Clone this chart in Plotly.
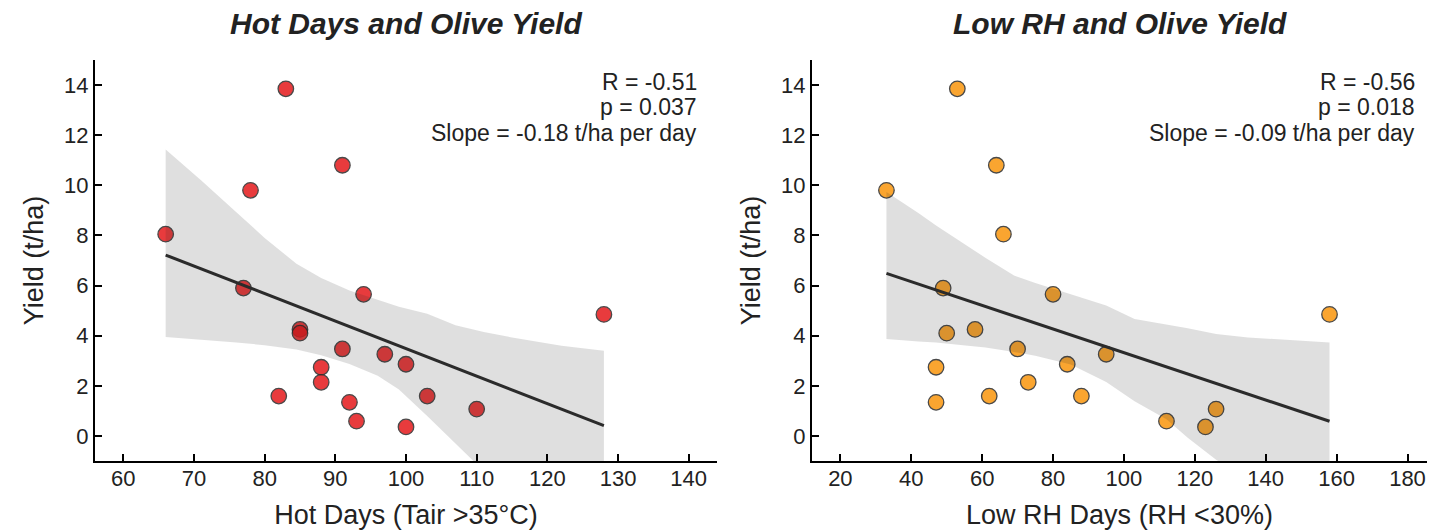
import numpy as np
import plotly.graph_objects as go

# ---- data ----
yield_t_ha = [13.85, 10.8, 9.8, 8.05, 5.9, 5.65, 4.85, 4.25, 4.1, 3.47,
              3.26, 2.86, 2.74, 2.14, 1.59, 1.59, 1.34, 1.07, 0.59, 0.36]
hot_days = [83, 91, 78, 66, 77, 94, 128, 85, 85, 91,
            97, 100, 88, 88, 82, 103, 92, 110, 93, 100]
low_rh_days = [53, 64, 33, 66, 49, 80, 158, 58, 50, 70,
               95, 84, 47, 73, 62, 88, 47, 126, 112, 123]

# bootstrap confidence band edges
hot_ci_x = [66, 71, 76, 80, 84.5, 88, 92, 96, 99, 103, 107, 111, 115, 122, 128]
hot_ci_upper = [11.43, 10.2, 8.93, 7.9, 6.87, 6.3, 5.8, 5.42, 5.15, 4.88, 4.42, 4.15, 3.93, 3.6, 3.4]
hot_ci_lower = [3.95, 3.85, 3.73, 3.62, 3.45, 3.22, 2.87, 2.4, 1.85, 0.8, -0.3, -1.4, -2.4, -4.0, -5.4]

rh_ci_x = [33, 42, 47, 56, 61, 69, 75, 85, 95, 103, 112, 118, 126, 135, 158]
rh_ci_upper = [9.73, 8.9, 8.4, 7.55, 7.1, 6.4, 6.1, 5.65, 5.2, 4.67, 4.45, 4.3, 4.07, 3.93, 3.73]
rh_ci_lower = [3.87, 3.77, 3.73, 3.6, 3.53, 3.35, 3.2, 2.85, 2.15, 1.38, 0.67, -0.07, -0.95, -1.7, -3.7]

panel_titles = ["Hot Days and Olive Yield", "Low RH and Olive Yield"]
x_titles = ["Hot Days (Tair >35°C)", "Low RH Days (RH <30%)"]
stats_lines = [["R = -0.51", "p = 0.037", "Slope = -0.18 t/ha per day"],
               ["R = -0.56", "p = 0.018", "Slope = -0.09 t/ha per day"]]
x_ticks = [[60, 70, 80, 90, 100, 110, 120, 130, 140],
           [20, 40, 60, 80, 100, 120, 140, 160, 180]]
x_ranges = [[56, 144], [12, 185.5]]
y_ticks = [0, 2, 4, 6, 8, 10, 12, 14]

marker_colors = ["rgb(228,26,28)", "rgb(250,150,12)"]

FONT = "Liberation Sans, Arial, Helvetica, sans-serif"
TXT = "#222222"

fig = go.Figure()

panels = [
    (hot_days, hot_ci_x, hot_ci_upper, hot_ci_lower, "x", "y"),
    (low_rh_days, rh_ci_x, rh_ci_upper, rh_ci_lower, "x2", "y2"),
]

for i, (xs, cx, cu, cl, xa, ya) in enumerate(panels):
    fig.add_trace(go.Scatter(
        x=xs, y=yield_t_ha, mode="markers", xaxis=xa, yaxis=ya,
        marker=dict(size=15.5, color=marker_colors[i], opacity=0.85,
                    line=dict(color="#2a2a2a", width=1.3)),
        showlegend=False, hoverinfo="x+y"))
    fig.add_trace(go.Scatter(
        x=list(cx) + list(cx[::-1]), y=list(cu) + list(cl[::-1]),
        mode="lines", fill="toself", fillcolor="rgba(43,43,43,0.15)",
        line=dict(width=0), xaxis=xa, yaxis=ya, showlegend=False,
        hoverinfo="skip"))
    slope, intercept = np.polyfit(xs, yield_t_ha, 1)
    lx = [min(xs), max(xs)]
    fig.add_trace(go.Scatter(
        x=lx, y=[intercept + slope * v for v in lx], mode="lines",
        line=dict(color="#2b2b2b", width=3), xaxis=xa, yaxis=ya,
        showlegend=False, hoverinfo="skip"))

W, H = 1429, 531
ML, MR, MT, MB = 95, 2, 60, 70
pw = W - ML - MR
ph = H - MT - MB
d1 = [0, (717 - ML) / pw]
d2 = [(812 - ML) / pw, 1.0]

axis_common = dict(showgrid=False, zeroline=False, showline=True,
                   linecolor="black", linewidth=2, ticks="inside",
                   ticklen=7, tickwidth=1.5, tickcolor="black",
                   tickfont=dict(family=FONT, size=22, color=TXT),
                   automargin=False)
xt_font = dict(family=FONT, size=27, color=TXT)

fig.update_layout(
    width=W, height=H,
    margin=dict(l=ML, r=MR, t=MT, b=MB),
    paper_bgcolor="white", plot_bgcolor="white",
    font=dict(family=FONT, color=TXT),
    xaxis=dict(domain=d1, range=x_ranges[0], tickvals=x_ticks[0], anchor="y",
               title=dict(text=x_titles[0], font=xt_font, standoff=15),
               ticklabelstandoff=-3, **axis_common),
    yaxis=dict(domain=[0, 1], range=[-1, 15], tickvals=y_ticks, anchor="x",
               title=dict(text="Yield (t/ha)", font=xt_font, standoff=13),
               **axis_common),
    xaxis2=dict(domain=d2, range=x_ranges[1], tickvals=x_ticks[1], anchor="y2",
                title=dict(text=x_titles[1], font=xt_font, standoff=15),
                ticklabelstandoff=-3, **axis_common),
    yaxis2=dict(domain=[0, 1], range=[-1, 15], tickvals=y_ticks, anchor="x2",
                title=dict(text="Yield (t/ha)", font=xt_font, standoff=13),
                **axis_common),
)

annotations = []
stat_y_px = [81.6, 106.5, 132.5]
stat_x_dom = [0.971, 0.984]
for i, (dom, xa) in enumerate([(d1, "x"), (d2, "x2")]):
    annotations.append(dict(
        text="<b><i>" + panel_titles[i] + "</i></b>", xref="paper", yref="paper",
        x=(dom[0] + dom[1]) / 2, y=1 + (MT - 23) / ph,
        xanchor="center", yanchor="middle", showarrow=False,
        font=dict(family=FONT, size=30, color=TXT)))
    for line, ypx in zip(stats_lines[i], stat_y_px):
        annotations.append(dict(
            text=line, xref=xa + " domain", yref="paper",
            x=stat_x_dom[i], y=(H - MB - ypx) / ph, xanchor="right", yanchor="middle",
            align="right", showarrow=False,
            font=dict(family=FONT, size=23, color=TXT)))
fig.update_layout(annotations=annotations)

# remove the default page margin so the figure fills the 1429x531 window
fig.write_html("out.html",
               config={"displayModeBar": False},
               post_script="document.body.style.margin='0';"
                           "document.body.style.overflow='hidden';")
